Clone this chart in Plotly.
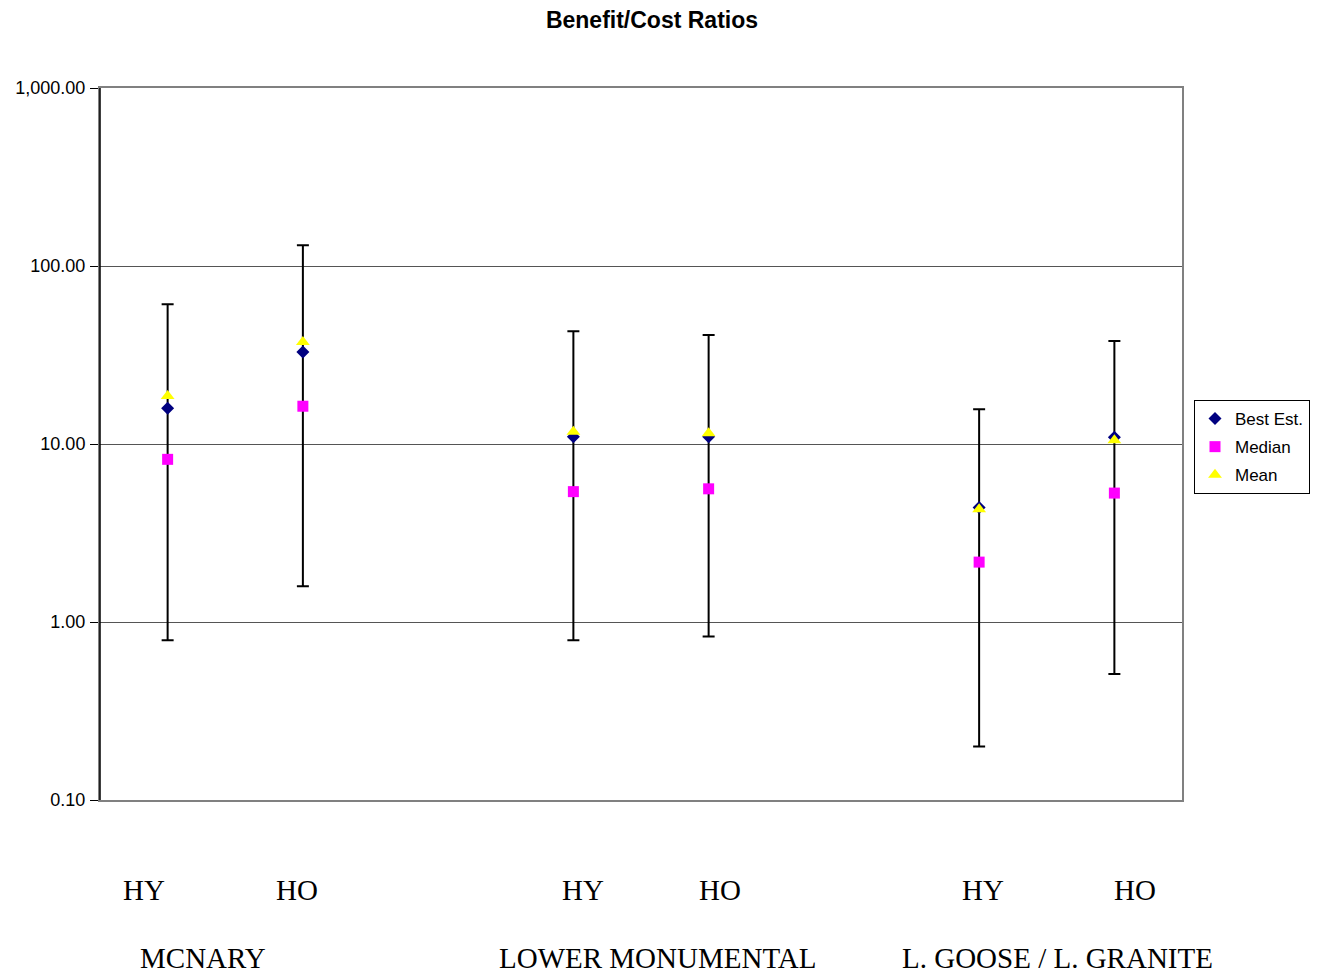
import plotly.graph_objects as go

categories = ["MCN_HY", "MCN_HO", "gap1", "LM_HY", "LM_HO", "gap2", "LG_HY", "LG_HO"]
plot_cats = ["MCN_HY", "MCN_HO", "LM_HY", "LM_HO", "LG_HY", "LG_HO"]
best_est = [15.9, 32.9, 11.0, 11.0, 4.4, 10.9]
median = [8.2, 16.3, 5.4, 5.6, 2.17, 5.3]
mean = [18.6, 37.4, 11.7, 11.5, 4.3, 10.5]
high = [61.0, 131.0, 43.0, 41.0, 15.7, 37.9]
low = [0.79, 1.59, 0.79, 0.83, 0.20, 0.51]

sub_labels = ["HY", "HO", "HY", "HO", "HY", "HO"]
sub_label_x = [144, 297, 583, 721, 984, 1136]
group_labels = ["MCNARY", "LOWER MONUMENTAL", "L. GOOSE / L. GRANITE"]
group_label_x = [203, 658, 1058]

W, H = 1321, 976
ML, MR, MT, MB = 100, 138, 88, 176
pw = W - ML - MR
ph = H - MT - MB


def px_to_paper(px, py):
    return (px - ML) / pw, 1 - (py - MT) / ph


fig = go.Figure()
fig.add_trace(go.Scatter(
    x=plot_cats, y=best_est, mode="markers", showlegend=False, hoverinfo="skip",
    marker=dict(size=1, color="rgba(0,0,0,0)"),
    error_y=dict(type="data", symmetric=False,
                 array=[h - b for h, b in zip(high, best_est)],
                 arrayminus=[b - l for b, l in zip(best_est, low)],
                 color="black", thickness=2, width=6),
))
fig.add_trace(go.Scatter(x=plot_cats, y=best_est, mode="markers", name="Best Est.",
                         legendgroup="a",
                         marker=dict(symbol="diamond", size=10, color="#000080")))
fig.add_trace(go.Scatter(x=plot_cats, y=median, mode="markers", name="Median",
                         legendgroup="b",
                         marker=dict(symbol="square", size=11, color="#FF00FF")))
fig.add_trace(go.Scatter(x=plot_cats, y=mean, mode="markers", name="Mean",
                         legendgroup="c",
                         marker=dict(symbol="triangle-up", size=12, color="#FFFF00")))

for t, x in zip(sub_labels, sub_label_x):
    ax, ay = px_to_paper(x, 890)
    fig.add_annotation(x=ax, y=ay, xref="paper", yref="paper",
                       text=t, showarrow=False, xanchor="center", yanchor="middle",
                       font=dict(family="Liberation Serif", size=29, color="black"))
for t, x in zip(group_labels, group_label_x):
    ax, ay = px_to_paper(x, 958)
    fig.add_annotation(x=ax, y=ay, xref="paper", yref="paper",
                       text=t, showarrow=False, xanchor="center", yanchor="middle",
                       font=dict(family="Liberation Serif", size=29, color="black"))

lx, ly = px_to_paper(1194, 400)

fig.update_layout(
    width=W, height=H,
    margin=dict(l=ML, r=MR, t=MT, b=MB),
    paper_bgcolor="white", plot_bgcolor="white",
    title=dict(text="<b>Benefit/Cost Ratios</b>", x=652 / W, xanchor="center", y=1 - 20 / H,
               yanchor="middle", font=dict(family="Liberation Sans", size=23, color="black")),
    font=dict(family="Liberation Sans", color="black"),
    xaxis=dict(type="category", categoryorder="array", categoryarray=categories,
               range=[-0.5, 7.5], showticklabels=False, showgrid=False, ticks="",
               showline=True, linecolor="#808080", linewidth=2, mirror=True, zeroline=False),
    yaxis=dict(type="log", range=[-1, 3], tickvals=[0.1, 1, 10, 100, 1000],
               ticktext=["0.10", "1.00", "10.00", "100.00", "1,000.00"],
               tickfont=dict(family="Liberation Sans", size=18, color="black"),
               ticks="outside", ticklen=8, tickcolor="black", tickwidth=1,
               ticklabelstandoff=1,
               showgrid=True, gridcolor="#555555", gridwidth=1,
               showline=True, linecolor="#808080", linewidth=2, mirror=True, zeroline=False),
    legend=dict(x=lx, y=ly, xref="paper", yref="paper",
                xanchor="left", yanchor="top", traceorder="grouped",
                bordercolor="black", borderwidth=1, bgcolor="white",
                font=dict(family="Liberation Sans", size=17, color="black"),
                itemwidth=30, tracegroupgap=3),
)

fig.add_shape(type="line", xref="paper", yref="paper", x0=0, x1=0, y0=0, y1=1,
              line=dict(color="black", width=1.5))

fig.write_html("out.html")
